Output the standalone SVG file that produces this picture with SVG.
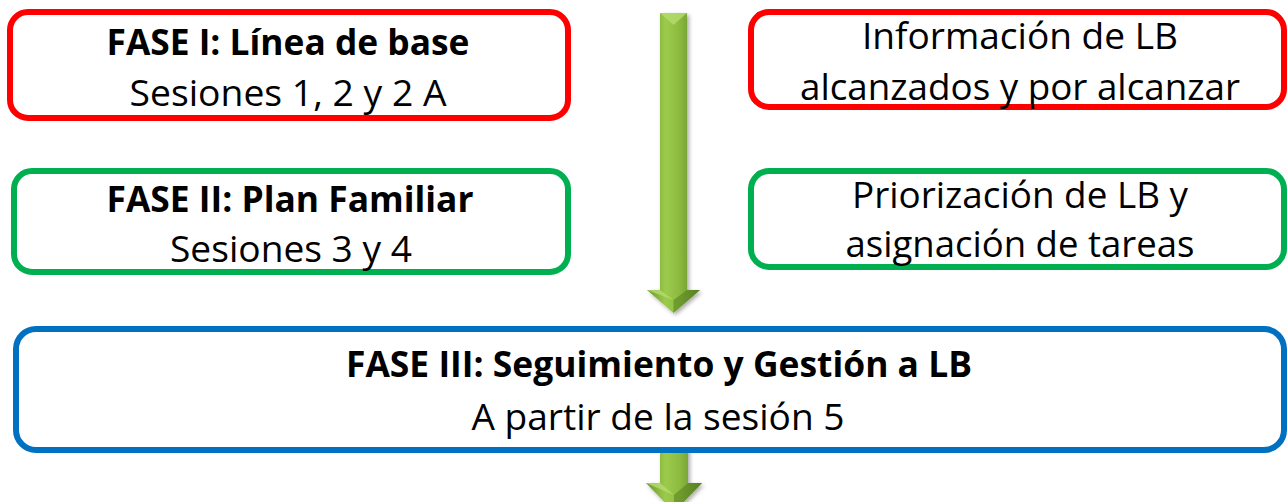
<svg xmlns="http://www.w3.org/2000/svg" width="1287" height="502" viewBox="0 0 1287 502">
  <defs>
    <linearGradient id="arrowGrad" x1="0" y1="0" x2="1" y2="0">
      <stop offset="0" stop-color="#6c9630"/>
      <stop offset="0.35" stop-color="#9ccb4c"/>
      <stop offset="0.6" stop-color="#8cbb40"/>
      <stop offset="1" stop-color="#5c8626"/>
    </linearGradient>
    <filter id="shadow" x="-30%" y="-5%" width="160%" height="110%">
      <feGaussianBlur in="SourceAlpha" stdDeviation="2"/>
      <feOffset dx="2" dy="2" result="b"/>
      <feComponentTransfer><feFuncA type="linear" slope="0.35"/></feComponentTransfer>
      <feMerge><feMergeNode/><feMergeNode in="SourceGraphic"/></feMerge>
    </filter>
  </defs>
  <style>
    .box { fill: #ffffff; stroke-width: 6; }
    .red { stroke: #ff0000; }
    .green { stroke: #00b050; }
    .blue { stroke: #0070c0; }
    text { font-family: "Open Sans", "Liberation Sans", sans-serif; font-size: 36px; fill: #000000; text-anchor: middle; }
    .b { font-weight: bold; }
    .arrow { fill: url(#arrowGrad); filter: url(#shadow); }
    .bevel { fill: #b5dc6e; opacity: 0.8; }
    .bevel2 { fill: #4f7a1c; opacity: 0.5; }
  </style>

  <g id="connectors">
    <g id="arrow1">
      <polygon class="arrow" points="660,13 687,13 687,290 700,290 673.5,313 647,290 660,290"/>
      <polygon class="bevel" points="660,13 687,13 673.5,25"/>
      <polygon class="bevel" points="647,290 660,290 673.5,300"/>
      <polygon class="bevel2" points="687,290 700,290 673.5,313 673.5,300"/>
    </g>
    <g id="arrow2">
      <polygon class="arrow" points="660,448 688,448 688,483 702,483 674,512 646,483 660,483"/>
      <polygon class="bevel" points="646,483 660,483 674,495"/>
      <polygon class="bevel2" points="688,483 702,483 674,512 674,495"/>
    </g>
  </g>

  <g id="fase1">
    <rect class="box red" x="10" y="12" width="558" height="106" rx="18"/>
    <text class="b" x="288" y="55" textLength="363" lengthAdjust="spacingAndGlyphs">FASE I: Línea de base</text>
    <text x="288" y="106" textLength="317" lengthAdjust="spacingAndGlyphs">Sesiones 1, 2 y 2 A</text>
  </g>

  <g id="info-lb">
    <rect class="box red" x="751" y="12" width="533" height="95" rx="18"/>
    <text x="1020" y="49" textLength="316" lengthAdjust="spacingAndGlyphs">Información de LB</text>
    <text x="1020" y="100" textLength="440" lengthAdjust="spacingAndGlyphs">alcanzados y por alcanzar</text>
  </g>

  <g id="fase2">
    <rect class="box green" x="14" y="171" width="554" height="101" rx="18"/>
    <text class="b" x="290" y="212" textLength="367" lengthAdjust="spacingAndGlyphs">FASE II: Plan Familiar</text>
    <text x="291" y="262" textLength="242" lengthAdjust="spacingAndGlyphs">Sesiones 3 y 4</text>
  </g>

  <g id="priorizacion">
    <rect class="box green" x="751" y="171" width="533" height="96" rx="18"/>
    <text x="1020" y="208" textLength="336" lengthAdjust="spacingAndGlyphs">Priorización de LB y</text>
    <text x="1020" y="257" textLength="349" lengthAdjust="spacingAndGlyphs">asignación de tareas</text>
  </g>

  <g id="fase3">
    <rect class="box blue" x="16" y="329" width="1268" height="121" rx="20"/>
    <text class="b" x="659" y="377" textLength="626" lengthAdjust="spacingAndGlyphs">FASE III: Seguimiento y Gestión a LB</text>
    <text x="658" y="430" textLength="373" lengthAdjust="spacingAndGlyphs">A partir de la sesión 5</text>
  </g>
</svg>
